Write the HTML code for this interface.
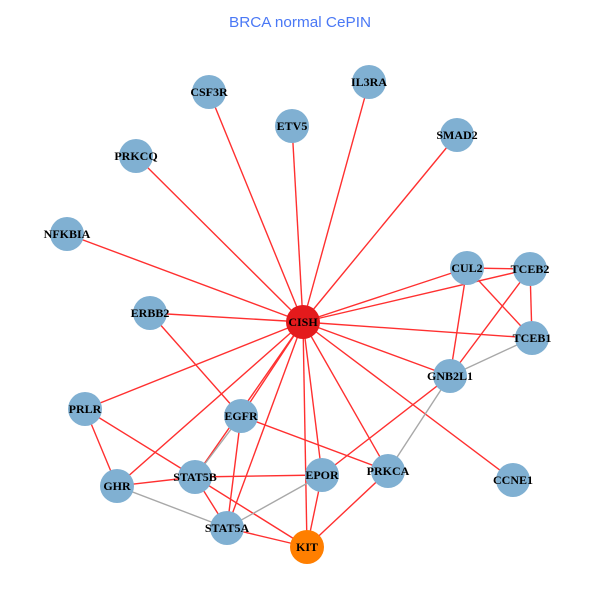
<!DOCTYPE html>
<html><head><meta charset="utf-8"><style>
html,body{margin:0;padding:0;background:#fff;}
svg{display:block;}
.l{font-family:"Liberation Serif",serif;font-weight:bold;font-size:12px;fill:#000;text-anchor:middle;}
</style></head><body>
<svg width="600" height="600" viewBox="0 0 600 600" xmlns="http://www.w3.org/2000/svg">
<text x="300" y="27" font-family="Liberation Sans, sans-serif" font-size="14.5" fill="#4a78f5" text-anchor="middle" textLength="142" lengthAdjust="spacingAndGlyphs">BRCA normal CePIN</text>
<g stroke="#ff3030" stroke-width="1.4" fill="none">
<line x1="303" y1="322" x2="209" y2="92"/>
<line x1="303" y1="322" x2="369" y2="82"/>
<line x1="303" y1="322" x2="292" y2="126"/>
<line x1="303" y1="322" x2="457" y2="135"/>
<line x1="303" y1="322" x2="136" y2="156"/>
<line x1="303" y1="322" x2="67" y2="234"/>
<line x1="303" y1="322" x2="467" y2="268"/>
<line x1="303" y1="322" x2="530" y2="269"/>
<line x1="303" y1="322" x2="150" y2="313"/>
<line x1="303" y1="322" x2="532" y2="338"/>
<line x1="303" y1="322" x2="450" y2="376"/>
<line x1="303" y1="322" x2="85" y2="409"/>
<line x1="303" y1="322" x2="241" y2="416"/>
<line x1="303" y1="322" x2="195" y2="477"/>
<line x1="303" y1="322" x2="117" y2="486"/>
<line x1="303" y1="322" x2="322" y2="475"/>
<line x1="303" y1="322" x2="388" y2="471"/>
<line x1="303" y1="322" x2="513" y2="480"/>
<line x1="303" y1="322" x2="227" y2="528"/>
<line x1="303" y1="322" x2="307" y2="547"/>
<line x1="150" y1="313" x2="241" y2="416"/>
<line x1="85" y1="409" x2="117" y2="486"/>
<line x1="85" y1="409" x2="195" y2="477"/>
<line x1="117" y1="486" x2="195" y2="477"/>
<line x1="241" y1="416" x2="227" y2="528"/>
<line x1="241" y1="416" x2="388" y2="471"/>
<line x1="195" y1="477" x2="322" y2="475"/>
<line x1="195" y1="477" x2="227" y2="528"/>
<line x1="195" y1="477" x2="307" y2="547"/>
<line x1="227" y1="528" x2="307" y2="547"/>
<line x1="322" y1="475" x2="307" y2="547"/>
<line x1="322" y1="475" x2="450" y2="376"/>
<line x1="388" y1="471" x2="307" y2="547"/>
<line x1="467" y1="268" x2="530" y2="269"/>
<line x1="467" y1="268" x2="532" y2="338"/>
<line x1="467" y1="268" x2="450" y2="376"/>
<line x1="530" y1="269" x2="532" y2="338"/>
<line x1="530" y1="269" x2="450" y2="376"/>
</g>
<g stroke="#a8a8a8" stroke-width="1.4" fill="none">
<line x1="117" y1="486" x2="227" y2="528"/>
<line x1="241" y1="416" x2="195" y2="477"/>
<line x1="227" y1="528" x2="322" y2="475"/>
<line x1="388" y1="471" x2="450" y2="376"/>
<line x1="450" y1="376" x2="532" y2="338"/>
</g>
<g fill="#80b0d2">
<circle cx="209" cy="92" r="17"/>
<circle cx="369" cy="82" r="17"/>
<circle cx="292" cy="126" r="17"/>
<circle cx="457" cy="135" r="17"/>
<circle cx="136" cy="156" r="17"/>
<circle cx="67" cy="234" r="17"/>
<circle cx="467" cy="268" r="17"/>
<circle cx="530" cy="269" r="17"/>
<circle cx="150" cy="313" r="17"/>
<circle cx="532" cy="338" r="17"/>
<circle cx="450" cy="376" r="17"/>
<circle cx="85" cy="409" r="17"/>
<circle cx="241" cy="416" r="17"/>
<circle cx="195" cy="477" r="17"/>
<circle cx="117" cy="486" r="17"/>
<circle cx="322" cy="475" r="17"/>
<circle cx="388" cy="471" r="17"/>
<circle cx="513" cy="480" r="17"/>
<circle cx="227" cy="528" r="17"/>
</g>
<circle cx="303" cy="322" r="17" fill="#e41a1c"/>
<circle cx="307" cy="547" r="17" fill="#ff7f00"/>
<g class="l">
<text x="209" y="96">CSF3R</text>
<text x="369" y="86">IL3RA</text>
<text x="292" y="130">ETV5</text>
<text x="457" y="139">SMAD2</text>
<text x="136" y="160">PRKCQ</text>
<text x="67" y="238">NFKBIA</text>
<text x="467" y="272">CUL2</text>
<text x="530" y="273">TCEB2</text>
<text x="150" y="317">ERBB2</text>
<text x="303" y="326">CISH</text>
<text x="532" y="342">TCEB1</text>
<text x="450" y="380">GNB2L1</text>
<text x="85" y="413">PRLR</text>
<text x="241" y="420">EGFR</text>
<text x="195" y="481">STAT5B</text>
<text x="117" y="490">GHR</text>
<text x="322" y="479">EPOR</text>
<text x="388" y="475">PRKCA</text>
<text x="513" y="484">CCNE1</text>
<text x="227" y="532">STAT5A</text>
<text x="307" y="551">KIT</text>
</g>
</svg>
</body></html>
